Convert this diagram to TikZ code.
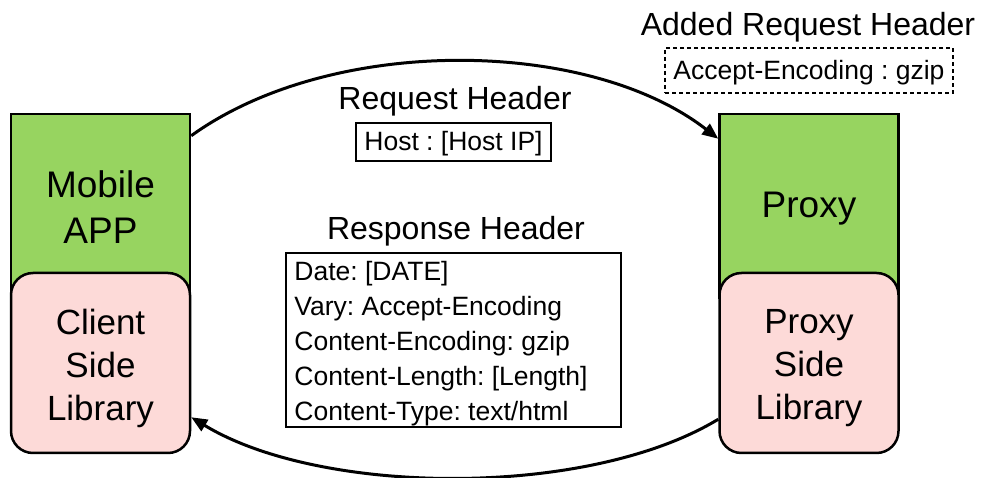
\documentclass[tikz,border=0pt]{standalone}
\usepackage{fontspec}
\setmainfont{Liberation Sans}
\usetikzlibrary{arrows.meta}

\definecolor{appgreen}{RGB}{151,212,96}
\definecolor{libpink}{RGB}{253,218,216}

\begin{document}
\frenchspacing
\begin{tikzpicture}[x=1pt,y=1pt,
  tier/.style={draw=black, line width=2.5pt, inner sep=0pt, minimum width=179pt},
  appbox/.style={tier, fill=appgreen, minimum height=184pt},
  libbox/.style={tier, fill=libpink, rounded corners=22pt, minimum height=180pt},
  apptext/.style={inner sep=0pt, align=center, font=\fontsize{37}{46}\selectfont},
  libtext/.style={inner sep=0pt, align=center, font=\fontsize{35}{43}\selectfont},
  heading/.style={font=\fontsize{32}{38}\selectfont, inner sep=0pt},
  field/.style={draw=black, line width=1.5pt, inner sep=0pt},
  fieldtext/.style={inner sep=0pt, font=\fontsize{26.5}{35}\selectfont},
  flow/.style={line width=3pt, -{Triangle[length=16pt,width=13pt]}}
]
\useasboundingbox (0,0) rectangle (981,478);
\fill[white] (0,0) rectangle (981,478);

% client and proxy stacks
\node[appbox] (app)   at (100.5,272) {};
\node[appbox] (proxy) at (809,272)   {};
\node[libbox] (client)    at (100.5,115) {};
\node[libbox] (proxyside) at (809,115)   {};
\node[apptext] (apptxt)   at ([yshift=-1pt]app.center)   {Mobile\\APP};
\node[apptext] (proxytxt) at ([yshift=-3pt]proxy.center) {Proxy};
\node[libtext] (clienttxt)    at ([yshift=-5pt]client.center)    {Client\\Side\\Library};
\node[libtext] (proxysidetxt) at ([yshift=-5pt]proxyside.center) {Proxy\\Side\\Library};

% request headers
\node[heading] (reqlabel) at (455,377) {Request Header};
\node[field, minimum width=195pt, minimum height=38pt] (host) at (453.5,336) {};
\node[fieldtext] (hosttxt) at ([yshift=-2pt]host.center) {Host : [Host IP]};

% header added by the proxy
\node[heading] (addlabel) at (808,451) {Added Request Header};
\node[field, dash pattern=on 4pt off 3pt, minimum width=288pt, minimum height=45pt]
      (added) at (809,407.5) {};
\node[fieldtext] (addedtxt) at ([yshift=-2pt]added.center) {Accept-Encoding : gzip};

% response headers
\node[heading] (resplabel) at (456,247) {Response Header};
\node[field, minimum width=335pt, minimum height=174pt] (resp) at (453.5,138) {};
\node[fieldtext, align=left, anchor=west]
      (resptxt) at ([xshift=9pt,yshift=-4pt]resp.west)
      {Date: [DATE]\\Vary: Accept-Encoding\\Content-Encoding: gzip\\Content-Length: [Length]\\Content-Type: text/html};

% request and response flows
\draw[flow] ([yshift=-23pt]app.north east)
  .. controls +(140,101) and +(-130,101) .. ([yshift=-26pt]proxy.north west);
\draw[flow] ([yshift=35pt]proxyside.south west)
  .. controls +(-130,-79) and +(130,-79) .. ([yshift=37pt]client.south east);
\end{tikzpicture}
\end{document}
